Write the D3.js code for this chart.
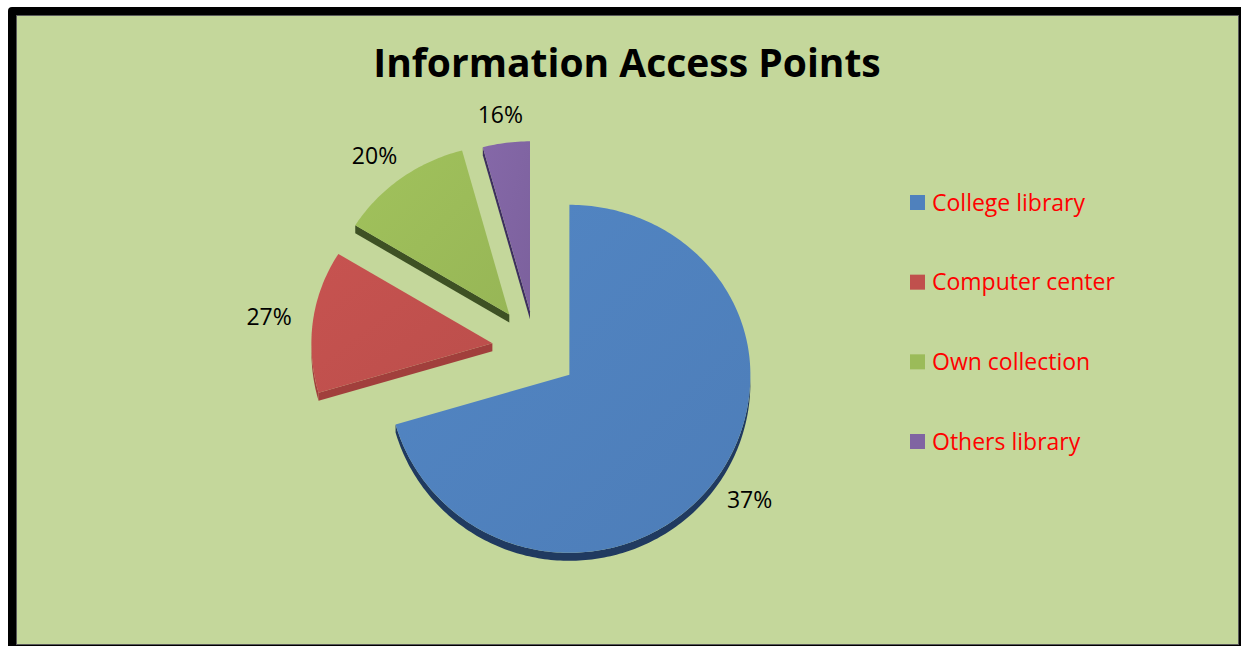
<!DOCTYPE html>
<html>
<head>
<meta charset="utf-8">
<script src="https://cdn.jsdelivr.net/npm/d3@7"></script>
<style>
  body { margin: 0; background: #fff; }
  svg { display: block; }
</style>
</head>
<body>
<svg id="chart"></svg>
<script>
// values
const chartTitle = 'Information Access Points';
const categories = ['College library', 'Computer center', 'Own collection', 'Others library'];
// slice sizes as they are drawn (the printed labels do not match them)
const shares = [70.5, 13.3, 12.0, 4.2];
const percentLabels = ['37%', '27%', '20%', '16%'];

const palette = ['#4F81BD', '#C0504D', '#9BBB59', '#8064A2'];
const sidePalette = ['#203A60', '#A13F3C', '#3E5124', '#3D2F5E'];
// how far each slice is pulled out of the centre, px
const explodeBy = [43, 43, 43, 38];

const W = 1241, H = 646;
const font = '"Open Sans", sans-serif';

function drawChart() {
  const svg = d3.select('#chart')
    .attr('width', W)
    .attr('height', H);

  // frame
  svg.append('rect')
    .attr('x', 8).attr('y', 7)
    .attr('width', W).attr('height', H)
    .attr('rx', 4)
    .attr('fill', '#000');
  svg.append('rect')
    .attr('x', 16.5).attr('y', 15.5)
    .attr('width', 1222).attr('height', 629)
    .attr('fill', '#C4D79B')
    .attr('stroke', '#595959')
    .attr('stroke-width', 1);

  svg.append('text')
    .attr('x', 627).attr('y', 77)
    .attr('text-anchor', 'middle')
    .style('font', `bold 39px ${font}`)
    .attr('fill', '#000')
    .text(chartTitle);

  const color = d3.scaleOrdinal().domain(categories).range(palette);
  const sideColor = d3.scaleOrdinal().domain(categories).range(sidePalette);

  // 3d pie geometry
  const cx = 535, cy = 349;
  const rx = 181, ryTop = 170, ryBottom = 178;
  const depth = 8, labelK = 1.12, labelSize = 23;

  const pt = (a, k, ox, oy) => {
    const ry = Math.cos(a) > 0 ? ryTop : ryBottom;
    return [ox + k * rx * Math.sin(a), oy - k * ry * Math.cos(a)];
  };
  const arcPoints = (a0, a1, ox, oy) => {
    const n = Math.max(2, Math.ceil((a1 - a0) / (Math.PI / 180)));
    return d3.range(n + 1).map(i => pt(a0 + (a1 - a0) * i / n, 1, ox, oy));
  };
  const line = d3.line();
  const down = p => [p[0], p[1] + depth];

  const rows = categories.map((name, i) => ({ name, value: shares[i], label: percentLabels[i] }));
  const arcs = d3.pie()
    .sort(null)
    .value(d => d.value)(rows);

  arcs.forEach((d, i) => {
    d.mid = (d.startAngle + d.endAngle) / 2;
    d.ox = cx + explodeBy[i] * Math.sin(d.mid);
    d.oy = cy - explodeBy[i] * Math.cos(d.mid);
  });

  const defs = svg.append('defs');
  arcs.forEach((d, i) => {
    const c = d3.color(color(d.data.name));
    const g = defs.append('linearGradient')
      .attr('id', 'grad' + i)
      .attr('x1', 0).attr('y1', 0)
      .attr('x2', 1).attr('y2', 1);
    g.append('stop').attr('offset', '0%').attr('stop-color', c.brighter(0.1));
    g.append('stop').attr('offset', '100%').attr('stop-color', c.darker(0.08));
  });

  const pieG = svg.append('g');

  // side faces
  arcs.forEach(d => {
    const v = [d.ox, d.oy];
    const sides = [];
    const lo = Math.max(d.startAngle, Math.PI / 2);
    const hi = Math.min(d.endAngle, 3 * Math.PI / 2);
    if (hi > lo) {
      const pts = arcPoints(lo, hi, d.ox, d.oy);
      sides.push(pts.concat(pts.slice().reverse().map(down)));
    }
    if (Math.cos(d.startAngle - Math.PI / 2) < -0.01) {
      const p = pt(d.startAngle, 1, d.ox, d.oy);
      sides.push([v, p, down(p), down(v)]);
    }
    if (Math.cos(d.endAngle + Math.PI / 2) < -0.01) {
      const p = pt(d.endAngle, 1, d.ox, d.oy);
      sides.push([v, p, down(p), down(v)]);
    }
    sides.forEach(s => {
      pieG.append('path')
        .attr('d', line(s) + 'Z')
        .attr('fill', sideColor(d.data.name));
    });
  });

  // top faces
  pieG.selectAll('path.top')
    .data(arcs)
    .enter()
    .append('path')
    .attr('class', 'top')
    .attr('d', d => line([[d.ox, d.oy]].concat(arcPoints(d.startAngle, d.endAngle, d.ox, d.oy))) + 'Z')
    .attr('fill', (d, i) => `url(#grad${i})`);

  // percentage labels just outside the slices
  const labels = svg.append('g')
    .selectAll('text')
    .data(arcs)
    .enter()
    .append('text')
    .attr('text-anchor', 'middle')
    .attr('dy', '0.36em')
    .style('font', `${labelSize}px ${font}`)
    .attr('fill', '#000')
    .text(d => d.data.label);

  labels.each(function(d) {
    const w = this.getComputedTextLength();
    const h = labelSize * 0.72;
    const s = Math.sin(d.mid), c = Math.cos(d.mid);
    const p = pt(d.mid, labelK, d.ox, d.oy);
    d3.select(this)
      .attr('x', p[0] + s * w / 2)
      .attr('y', p[1] - c * h / 2);
  });

  // legend
  const legendY = d3.scalePoint()
    .domain(categories)
    .range([202.5, 441.5]);

  const legend = svg.append('g')
    .selectAll('g')
    .data(categories)
    .enter()
    .append('g')
    .attr('transform', d => `translate(910,${legendY(d)})`);

  legend.append('rect')
    .attr('x', 0).attr('y', -7.5)
    .attr('width', 15).attr('height', 15)
    .attr('fill', d => color(d));

  legend.append('text')
    .attr('x', 22).attr('y', 8)
    .style('font', `23px ${font}`)
    .attr('fill', '#FF0000')
    .text(d => d);
}

drawChart();
</script>
</body>
</html>
